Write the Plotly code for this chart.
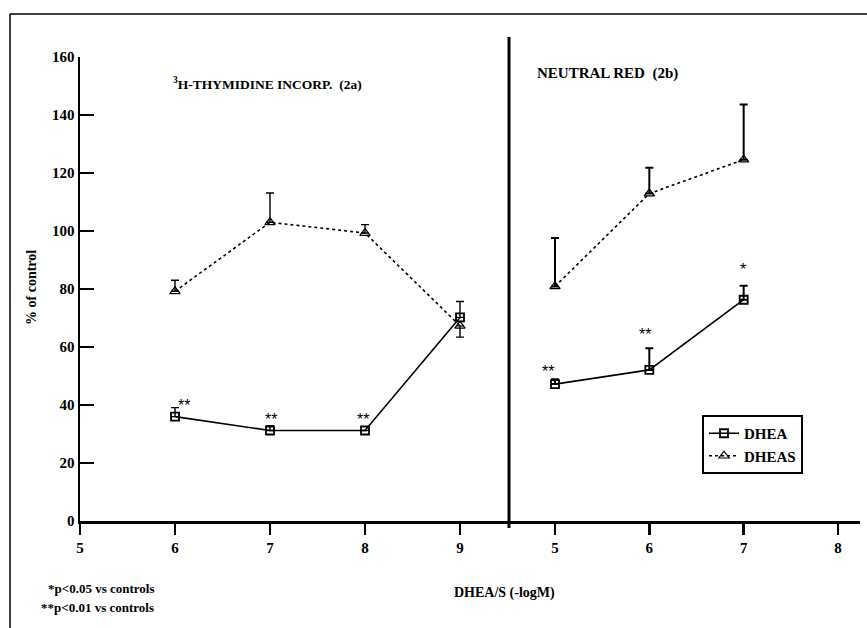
import plotly.graph_objects as go

# ---------------- data ----------------
left_x = [6, 7, 8, 9]
left_dhea = [36.0, 31.2, 31.2, 70.2]
left_dhea_err_up = [3.1, 1.7, float("nan"), 5.5]
left_dheas = [79.2, 103.0, 99.3, 67.3]
left_dheas_err_up = [3.8, 10.1, 2.9, 0.0]
left_dheas_err_dn = [0.0, 0.0, 0.0, 3.9]

right_x = [5, 6, 7]
right_dhea = [47.2, 52.1, 76.3]
right_dhea_err_up = [1.7, 7.5, 4.8]
right_dheas = [80.9, 112.9, 124.6]
right_dheas_err_up = [16.7, 8.9, 19.0]

x_ticks_left = [5, 6, 7, 8, 9]
x_ticks_right = [5, 6, 7, 8]
y_ticks = [0, 20, 40, 60, 80, 100, 120, 140, 160]

# significance marks: (axis, x, y, text)
stars = [
    ("x", 6.09, 40.0, "**"),
    ("x", 7.01, 35.0, "**"),
    ("x", 7.98, 35.0, "**"),
    ("x2", 4.93, 51.5, "**"),
    ("x2", 5.95, 64.3, "**"),
    ("x2", 6.99, 86.8, "*"),
]

W, H = 867, 628
FONT = "Liberation Serif, Times New Roman, serif"


def px(x):
    return x / W


def py(y):
    return 1 - y / H


fig = go.Figure()

err_style = dict(color="black", thickness=1.4, width=4)
tri_marker = dict(symbol="triangle-up-open", size=9, color="black", line=dict(width=1.2))
sq_marker = dict(symbol="square-open", size=8, color="black", line=dict(width=1.8))

# DHEA (squares, solid)
fig.add_trace(go.Scatter(
    x=left_x, y=left_dhea, xaxis="x", yaxis="y", name="DHEA", legendgroup="dhea",
    mode="lines+markers",
    line=dict(color="black", width=1.6),
    marker=sq_marker,
    error_y=dict(type="data", array=left_dhea_err_up, arrayminus=[0, 0, 0, 0], symmetric=False, **err_style),
))
fig.add_trace(go.Scatter(
    x=right_x, y=right_dhea, xaxis="x2", yaxis="y", name="DHEA", legendgroup="dhea", showlegend=False,
    mode="lines+markers",
    line=dict(color="black", width=1.6),
    marker=sq_marker,
    error_y=dict(type="data", array=right_dhea_err_up, arrayminus=[0, 0, 0], symmetric=False,
                 color="black", thickness=2, width=4),
))
# DHEAS (triangles, dotted)
fig.add_trace(go.Scatter(
    x=left_x, y=left_dheas, xaxis="x", yaxis="y", name="DHEAS", legendgroup="dheas",
    mode="lines+markers",
    line=dict(color="black", width=1.6, dash="dot"),
    marker=tri_marker,
    error_y=dict(type="data", array=left_dheas_err_up, arrayminus=left_dheas_err_dn, symmetric=False, **err_style),
))
fig.add_trace(go.Scatter(
    x=right_x, y=right_dheas, xaxis="x2", yaxis="y", name="DHEAS", legendgroup="dheas", showlegend=False,
    mode="lines+markers",
    line=dict(color="black", width=1.6, dash="dot"),
    marker=tri_marker,
    error_y=dict(type="data", array=right_dheas_err_up, arrayminus=[0, 0, 0], symmetric=False,
                 color="black", thickness=2, width=4),
))

tickfont = dict(family=FONT, size=15, color="black", weight="bold")

common_x = dict(
    anchor="y", tickmode="array",
    ticks="outside", ticklen=11, tickwidth=2.5, tickcolor="black",
    showline=True, linewidth=2.5, linecolor="black",
    showgrid=False, zeroline=False, tickfont=tickfont, automargin=False,
)

fig.update_layout(
    width=W, height=H,
    margin=dict(l=0, r=0, t=0, b=0, pad=0, autoexpand=False),
    paper_bgcolor="white", plot_bgcolor="white",
    showlegend=True, hovermode=False,
    legend=dict(
        x=px(702), y=py(415), xanchor="left", yanchor="top",
        bordercolor="black", borderwidth=2, bgcolor="white",
        font=dict(family=FONT, size=15, color="black", weight="bold"),
        tracegroupgap=0,
    ),
    xaxis=dict(
        domain=[px(80), px(509)], range=[5, 5 + (509 - 80) / 95.0],
        tickvals=x_ticks_left, **common_x,
    ),
    xaxis2=dict(
        domain=[px(509), px(860)], range=[5 - (555 - 509) / 94.33, 8 + (860 - 838) / 94.33],
        tickvals=x_ticks_right, **common_x,
    ),
    yaxis=dict(
        domain=[py(521), py(57)], range=[0, 160], anchor="x",
        tickmode="array", tickvals=y_ticks,
        ticks="inside", ticklen=14, tickwidth=2.5, tickcolor="black",
        showline=True, linewidth=2.5, linecolor="black",
        showgrid=False, zeroline=False, tickfont=tickfont, automargin=False,
    ),
)

shapes = [
    # divider between panels
    dict(type="line", xref="paper", yref="paper", x0=px(509), x1=px(509), y0=py(37), y1=py(528),
         line=dict(color="black", width=3)),
    # frame (top and left edges)
    dict(type="line", xref="paper", yref="paper", x0=px(10), x1=px(10), y0=py(14), y1=0,
         line=dict(color="black", width=1.5)),
    dict(type="line", xref="paper", yref="paper", x0=px(10), x1=1, y0=py(14), y1=py(14),
         line=dict(color="black", width=1.5)),
]
fig.update_layout(shapes=shapes)

ann = []
ann.append(dict(text="<sup>3</sup>H-THYMIDINE INCORP.&nbsp;&nbsp;(2a)", xref="paper", yref="paper",
                x=px(171), y=py(84), xanchor="left", yanchor="middle", showarrow=False,
                font=dict(family=FONT, size=13.5, color="black", weight="bold")))
ann.append(dict(text="NEUTRAL RED&nbsp;&nbsp;(2b)", xref="paper", yref="paper",
                x=px(535), y=py(74), xanchor="left", yanchor="middle", showarrow=False,
                font=dict(family=FONT, size=15, color="black", weight="bold")))
ann.append(dict(text="% of control", xref="paper", yref="paper", textangle=-90,
                x=px(31), y=py(288), xanchor="center", yanchor="middle", showarrow=False,
                font=dict(family=FONT, size=14, color="black", weight="bold")))
ann.append(dict(text="DHEA/S (-logM)", xref="paper", yref="paper",
                x=px(504), y=py(593), xanchor="center", yanchor="middle", showarrow=False,
                font=dict(family=FONT, size=14, color="black", weight="bold")))
ann.append(dict(text="*p<0.05 vs controls", xref="paper", yref="paper",
                x=px(156), y=py(588), xanchor="right", yanchor="middle", showarrow=False,
                font=dict(family=FONT, size=13, color="black", weight="bold")))
ann.append(dict(text="**p<0.01 vs controls", xref="paper", yref="paper",
                x=px(156), y=py(607), xanchor="right", yanchor="middle", showarrow=False,
                font=dict(family=FONT, size=13, color="black", weight="bold")))
for axis, sx, sy, t in stars:
    ann.append(dict(text=t, xref=axis, yref="y", x=sx, y=sy, xanchor="center", yanchor="middle",
                    showarrow=False, font=dict(family="Liberation Sans", size=16, color="black")))
fig.update_layout(annotations=ann)

fig.write_html("out.html", config={"displayModeBar": False, "staticPlot": True},
               post_script="document.body.style.margin='0px';")
